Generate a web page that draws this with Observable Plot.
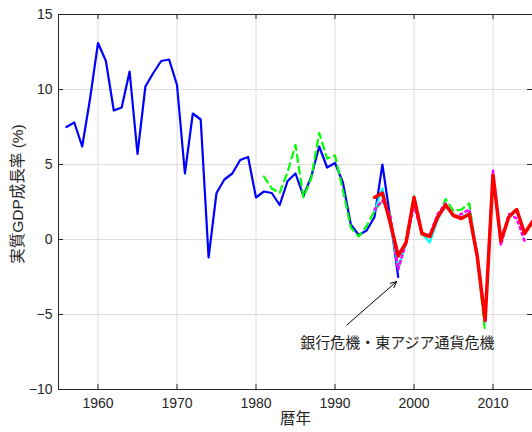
<!DOCTYPE html>
<html>
<head>
<meta charset="utf-8">
<script src="https://cdn.jsdelivr.net/npm/d3@7"></script>
<script src="https://cdn.jsdelivr.net/npm/@observablehq/plot@0.6"></script>
<style>
  html, body { margin: 0; padding: 0; background: #fff; }
  #chart svg { display: block; }
</style>
</head>
<body>
<div id="chart"></div>
<script>
// ---- data ----
const xTicks = [1960, 1970, 1980, 1990, 2000, 2010];
const yTicks = [-10, -5, 0, 5, 10, 15];

// 68SNA (blue)
const blueStart = 1956;
const blueValues = [7.5, 7.8, 6.2, 9.4, 13.1, 11.9, 8.6, 8.8, 11.2, 5.7,
  10.2, 11.1, 11.9, 12.0, 10.3, 4.4, 8.4, 8.0, -1.2, 3.1,
  4.0, 4.4, 5.3, 5.5, 2.8, 3.2, 3.1, 2.3, 3.9, 4.4,
  2.9, 4.2, 6.2, 4.8, 5.1, 3.8, 1.0, 0.3, 0.6, 1.5,
  5.0, 1.4, -2.5];

// green dashed
const greenStart = 1981;
const greenValues = [4.2, 3.4, 3.1, 4.5, 6.3, 2.8, 4.1, 7.1, 5.4, 5.6,
  3.3, 0.8, 0.2, 0.9, 1.9, 2.6, 1.6, -2.0, -0.1, 2.9,
  0.3, 0.2, 1.4, 2.7, 1.9, 2.0, 2.4, -1.2, -6.2];

// cyan
const cyanStart = 1995;
const cyanValues = [1.9, 3.4, 1.0, -1.8, -0.3, 2.6, 0.4, -0.2, 1.3, 2.3,
  1.6, 1.5, 1.7, -1.0, -5.5];

// magenta dotted
const magentaStart = 1995;
const magentaValues = [2.0, 2.6, 1.6, -2.0, -0.2, 2.3, 0.4, 0.3, 1.7, 2.4,
  1.5, 1.7, 2.0, -1.0, -5.5, 4.6, -0.4, 1.7, 1.4, -0.1];

// red (thick)
const redStart = 1995;
const redValues = [2.8, 3.1, 1.1, -1.1, -0.2, 2.8, 0.4, 0.2, 1.5, 2.3,
  1.6, 1.4, 1.7, -1.1, -5.4, 4.3, -0.1, 1.5, 2.0, 0.4, 1.2];

// annotation
const noteText = "銀行危機・東アジア通貨危機";
const noteAt = {x: 1997.9, y: -6.9};
const arrowFrom = {x: 1991.5, y: -5.7};
const arrowTo = {x: 1997.8, y: -2.8};

// ---- build ----
const toRows = (start, values) => values.map((v, i) => ({year: start + i, value: v}));
const blue = toRows(blueStart, blueValues);
const green = toRows(greenStart, greenValues);
const cyan = toRows(cyanStart, cyanValues);
const magenta = toRows(magentaStart, magentaValues);
const red = toRows(redStart, redValues);

const W = 532, H = 432;
const mL = 58, mR = 0, mT = 14, mB = 43;
const axisColor = "#262626";
const font = "'Liberation Sans', 'Noto Sans CJK JP', sans-serif";
const yearFmt = d => String(d);

const chart = Plot.plot({
  width: W,
  height: H,
  marginLeft: mL,
  marginRight: mR,
  marginTop: mT,
  marginBottom: mB,
  style: {fontFamily: font, fontSize: "14px", color: axisColor, background: "#fff"},
  x: {domain: [1955, 2015], ticks: xTicks, tickFormat: yearFmt},
  y: {domain: [-10, 15], ticks: yTicks},
  marks: [
    Plot.gridX(xTicks, {stroke: "#dcdcdc", strokeOpacity: 1}),
    Plot.gridY(yTicks, {stroke: "#dcdcdc", strokeOpacity: 1}),
    Plot.line(blue, {x: "year", y: "value", stroke: "#0000ff", strokeWidth: 2.2}),
    Plot.line(green, {x: "year", y: "value", stroke: "#00ff00", strokeWidth: 2.2, strokeDasharray: "7,5"}),
    Plot.line(cyan, {x: "year", y: "value", stroke: "#00ffff", strokeWidth: 2.2}),
    Plot.line(magenta, {x: "year", y: "value", stroke: "#ff00ff", strokeWidth: 2.6, strokeDasharray: "2,4"}),
    Plot.line(red, {x: "year", y: "value", stroke: "#ff0000", strokeWidth: 3.5}),
    Plot.arrow([{}], {x1: () => arrowFrom.x, y1: () => arrowFrom.y, x2: () => arrowTo.x, y2: () => arrowTo.y,
      stroke: "#000", strokeWidth: 1, headLength: 10, headAngle: 50, bend: 0}),
    Plot.text([noteText], {x: () => noteAt.x, y: () => noteAt.y, text: d => d, fontSize: 15, fill: "#262626"}),
    // axes
    Plot.ruleX([1955], {stroke: axisColor}),
    Plot.ruleY([-10], {stroke: axisColor}),
    Plot.ruleY([15], {stroke: axisColor}),
    Plot.tickX(xTicks, {x: d => d, stroke: axisColor, insetTop: H - mT - mB - 5}),
    Plot.tickX(xTicks, {x: d => d, stroke: axisColor, insetBottom: H - mT - mB - 5}),
    Plot.tickY(yTicks, {y: d => d, stroke: axisColor, insetRight: W - mL - mR - 5}),
    Plot.tickY(yTicks, {y: d => d, stroke: axisColor, insetLeft: W - mL - mR - 5}),
    Plot.axisX(xTicks, {tickSize: 0, tickPadding: 9, fontSize: 14, label: null, fill: axisColor, tickFormat: yearFmt}),
    Plot.axisY(yTicks, {tickSize: 0, tickPadding: 6, fontSize: 14, label: null, fill: axisColor}),
    Plot.text(["暦年"], {frameAnchor: "bottom", dy: 34, text: d => d, fontSize: 15.5, fill: axisColor}),
    Plot.text(["実質GDP成長率 (%)"], {frameAnchor: "left", dx: -40, dy: -8, rotate: -90, textAnchor: "middle",
      text: d => d, fontSize: 15.5, fill: axisColor})
  ]
});
document.getElementById("chart").appendChild(chart);
</script>
</body>
</html>
